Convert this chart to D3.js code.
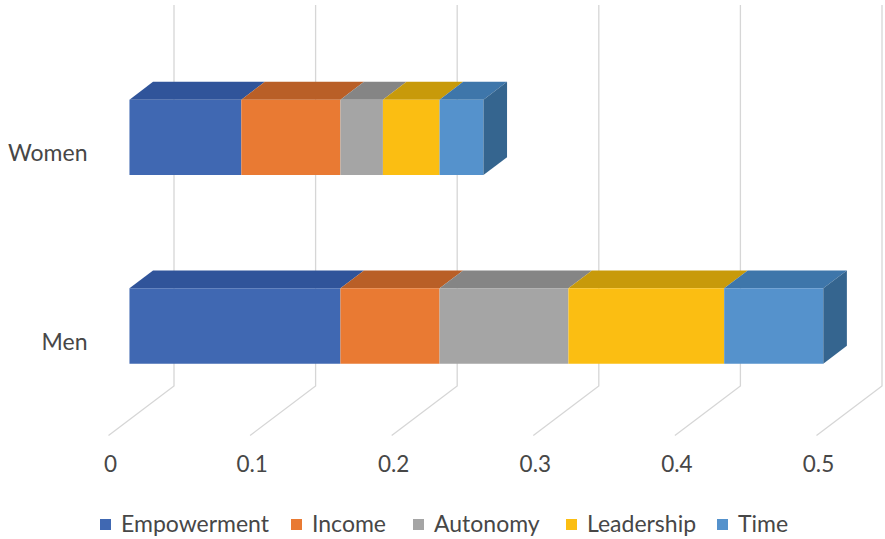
<!DOCTYPE html>
<html>
<head>
<meta charset="utf-8">
<script src="https://cdn.jsdelivr.net/npm/d3@7"></script>
<style>
  html, body { margin: 0; padding: 0; background: #ffffff; }
  svg { display: block; font-family: Lato, "Open Sans", sans-serif; }
</style>
</head>
<body>
<svg id="chart" width="885" height="539"></svg>
<script>
// Categories, series and values
const categories = ["Women", "Men"];
const seriesNames = ["Empowerment", "Income", "Autonomy", "Leadership", "Time"];
const womenValues = [0.079, 0.070, 0.030, 0.040, 0.031];
const menValues = [0.149, 0.070, 0.091, 0.110, 0.070];
const tickValues = [0, 0.1, 0.2, 0.3, 0.4, 0.5];
const tickLabels = ["0", "0.1", "0.2", "0.3", "0.4", "0.5"];

// Face shades per series: front, top, right side
const frontColors = ["#4068b2", "#e97a33", "#a5a5a5", "#fbbe12", "#5592cc"];
const topColors   = ["#30549a", "#b95f27", "#858585", "#c89a0a", "#3e76aa"];
const sideColors  = ["#2c4c8a", "#a35422", "#777777", "#b08708", "#35658f"];

const svg = d3.select("#chart");
const textColor = "#474747";

// Oblique 3D projection: value axis on the back wall, depth goes toward the viewer
const x = d3.scaleLinear().domain([0, 0.5]).range([174, 882]);
const depthVec = { dx: -65.5, dy: 49.5 };
const wallTop = 5, wallBottom = 386;
const y = d3.scaleBand().domain(categories).range([66, 330]).paddingInner(0.6);
const barBack = 0.32, barFront = 0.68;

function P(v, yy, d) {
  return [x(v) + d * depthVec.dx, yy + d * depthVec.dy];
}

// Back-wall gridlines and floor lines
const grid = svg.append("g").attr("fill", "none").attr("stroke", "#d6d6d6").attr("stroke-width", 1.3);
tickValues.forEach(t => {
  grid.append("path")
    .attr("d", d3.line()([P(t, wallTop, 0), P(t, wallBottom, 0), P(t, wallBottom, 1)]));
});

// Value axis labels along the front edge of the floor
svg.append("g")
  .selectAll("text")
  .data(tickValues)
  .join("text")
  .attr("x", (t) => P(t, wallBottom, 1)[0] + 2)
  .attr("y", 472)
  .attr("text-anchor", "middle")
  .attr("font-size", 22.5)
  .attr("fill", textColor)
  .text((t, i) => tickLabels[i]);

// Category labels
svg.append("g")
  .selectAll("text")
  .data(categories)
  .join("text")
  .attr("x", P(0, 0, 1)[0] - 21)
  .attr("y", (c) => y(c) + y.bandwidth() / 2 + depthVec.dy)
  .attr("dy", "0.36em")
  .attr("text-anchor", "end")
  .attr("font-size", 23)
  .attr("fill", textColor)
  .text((c) => c);

// Stacked 3D bars
const rows = [
  Object.fromEntries([["category", "Women"], ...seriesNames.map((s, i) => [s, womenValues[i]])]),
  Object.fromEntries([["category", "Men"], ...seriesNames.map((s, i) => [s, menValues[i]])])
];
const stacked = d3.stack().keys(seriesNames)(rows);
const poly = (pts) => "M" + pts.map(p => p.join(",")).join("L") + "Z";

const bars = svg.append("g");
rows.forEach((row, r) => {
  const y0 = y(row.category), y1 = y0 + y.bandwidth();
  const g = bars.append("g");
  stacked.forEach((layer, si) => {
    const [v0, v1] = layer[r];
    g.append("path")
      .attr("d", poly([P(v0, y0, barFront), P(v1, y0, barFront), P(v1, y0, barBack), P(v0, y0, barBack)]))
      .attr("fill", topColors[si]);
    g.append("path")
      .attr("d", poly([P(v0, y0, barFront), P(v1, y0, barFront), P(v1, y1, barFront), P(v0, y1, barFront)]))
      .attr("fill", frontColors[si]);
  });
  const last = stacked.length - 1;
  const vEnd = stacked[last][r][1];
  g.append("path")
    .attr("d", poly([P(vEnd, y0, barFront), P(vEnd, y0, barBack), P(vEnd, y1, barBack), P(vEnd, y1, barFront)]))
    .attr("fill", sideColors[last]);
});

// Legend
const legendX = [100, 291, 413, 566, 717];
const legend = svg.append("g")
  .selectAll("g")
  .data(seriesNames)
  .join("g")
  .attr("transform", (d, i) => `translate(${legendX[i]},519)`);
legend.append("rect")
  .attr("width", 11).attr("height", 11)
  .attr("fill", (d, i) => frontColors[i]);
legend.append("text")
  .attr("x", 21)
  .attr("y", 12.5)
  .attr("font-size", 23)
  .attr("fill", textColor)
  .text((d) => d);
</script>
</body>
</html>
